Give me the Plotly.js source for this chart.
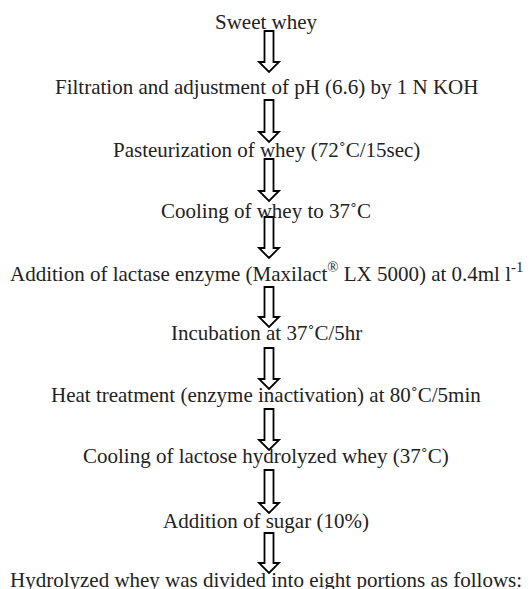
<!DOCTYPE html>
<html>
<head>
<meta charset="utf-8">
<script src="https://cdn.plot.ly/plotly-3.0.1.min.js"></script>
<style>html,body{margin:0;padding:0;background:#fff;}#chart{width:531px;height:589px;}</style>
</head>
<body>
<div id="chart"></div>
<script>
// Flow steps (top to bottom)
const steps = [
  "Sweet whey",
  "Filtration and adjustment of pH (6.6) by 1 N KOH",
  "Pasteurization of whey (72˚C/15sec)",
  "Cooling of whey to 37˚C",
  "Addition of lactase enzyme (Maxilact<sup>®</sup> LX 5000) at 0.4ml l<sup>-1</sup>",
  "Incubation at 37˚C/5hr",
  "Heat treatment (enzyme inactivation) at 80˚C/5min",
  "Cooling of lactose hydrolyzed whey (37˚C)",
  "Addition of sugar (10%)",
  "Hydrolyzed whey was divided into eight portions as follows:"
];
// Vertical position (page units) of each step label
const stepY = [22, 87, 150, 211, 272, 333, 395, 456, 521, 580];
// Arrow top / bottom between successive steps
const arrowTop = [31, 100, 159, 217, 287, 348, 409, 470, 533];
const arrowBottom = [72, 142, 201, 258, 327, 389, 450, 513, 573];

const textX = 266, arrowX = 269;
const shaftHalf = 4.5, headHalf = 10, headLen = 10;

const annotations = steps.map((s, i) => ({
  x: textX, y: stepY[i], xref: 'x', yref: 'y',
  text: s, showarrow: false, xanchor: 'center', yanchor: 'middle',
  font: {family: 'Liberation Serif, Times New Roman, serif', size: 21, color: '#222'}
}));

const shapes = arrowTop.map((t, i) => {
  const b = arrowBottom[i], h = b - headLen;
  const p = `M ${arrowX - shaftHalf} ${t} L ${arrowX + shaftHalf} ${t} L ${arrowX + shaftHalf} ${h} ` +
            `L ${arrowX + headHalf} ${h} L ${arrowX} ${b} L ${arrowX - headHalf} ${h} ` +
            `L ${arrowX - shaftHalf} ${h} Z`;
  return {type: 'path', path: p, xref: 'x', yref: 'y', line: {color: '#000', width: 1.8}, fillcolor: 'rgba(255,255,255,0)', layer: 'above'};
});

Plotly.newPlot('chart', [], {
  width: 531, height: 589,
  margin: {l: 0, r: 0, t: 0, b: 0},
  paper_bgcolor: '#fff', plot_bgcolor: '#fff',
  xaxis: {range: [0, 531], visible: false, fixedrange: true},
  yaxis: {range: [589, 0], visible: false, fixedrange: true},
  annotations: annotations,
  shapes: shapes,
  showlegend: false
}, {staticPlot: true, displayModeBar: false});
</script>
</body>
</html>
